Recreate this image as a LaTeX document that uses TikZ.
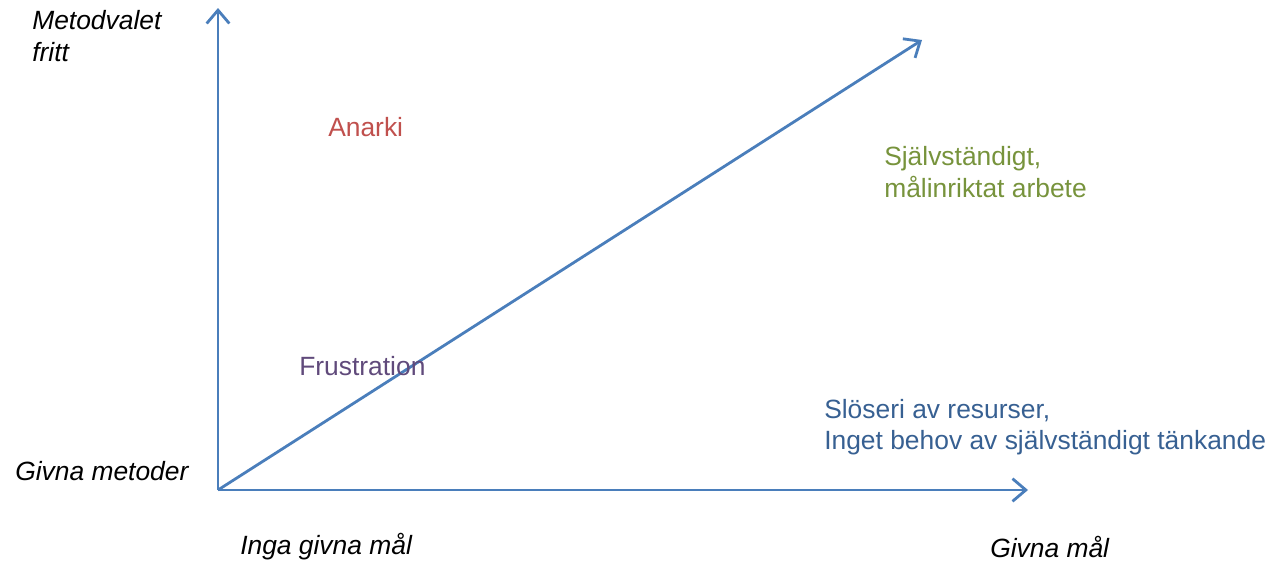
\documentclass[tikz,border=0pt]{standalone}
\usepackage{fontspec}
\setmainfont{Liberation Sans}
\usetikzlibrary{arrows.meta}
\definecolor{axisblue}{HTML}{4A7EBB}
\definecolor{anred}{HTML}{C0504D}
\definecolor{sjgreen}{HTML}{77933C}
\definecolor{frpurple}{HTML}{604A7B}
\definecolor{slblue}{HTML}{376092}
\tikzset{
  axis/.style={draw=axisblue, line width=2.1pt, -{Straight Barb[length=10pt,width=17pt,line width=2.1pt]}},
  lbl/.style={font=\fontsize{19.8}{23.4}\selectfont, align=left, inner sep=0pt, anchor=west},
  ilbl/.style={lbl, font=\fontsize{19.8}{23.4}\selectfont\itshape}
}
\begin{document}
\begin{tikzpicture}[x=0.75pt,y=-0.75pt]
\useasboundingbox (0,0) rectangle (1270,561);
\coordinate (O) at (218,490);
\coordinate (Ytop) at (218,8);
\coordinate (Xend) at (1028,490);
\coordinate (Dend) at (922,40);
\draw[axis] (O) -- (Ytop);
\draw[axis] (O) -- (Xend);
\draw[axis] (O) -- (Dend);
\node[ilbl] (metod) at (32,36) {Metodvalet\\fritt};
\node[lbl, text=anred] (anarki) at (328,127) {Anarki};
\node[lbl, text=sjgreen] (sjalv) at (884,172) {Självständigt,\\målinriktat arbete};
\node[lbl, text=frpurple] (frust) at (299,366) {Frustration};
\node[lbl, text=slblue] (sloseri) at (824,427) {Slöseri av resurser,\\Inget behov av självständigt tänkande};
\node[ilbl] (givnamet) at (15,471) {Givna metoder};
\node[ilbl] (inga) at (240,547) {Inga givna mål};
\node[ilbl] (givnamal) at (990,547) {Givna mål};
\end{tikzpicture}
\end{document}
